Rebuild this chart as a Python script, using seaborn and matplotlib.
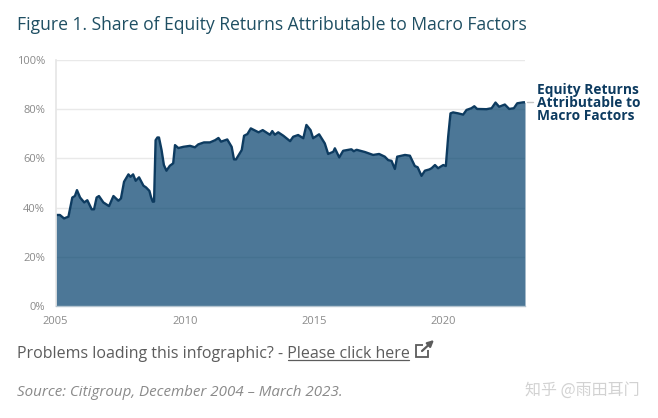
# ==========================
# IMPORT LIBRARIES
# ==========================
import matplotlib
matplotlib.use("Agg")
import matplotlib.pyplot as plt
import pandas as pd
import seaborn as sns
from matplotlib.lines import Line2D
from matplotlib.patches import FancyArrowPatch, Rectangle

# ==========================
# DATA
# ==========================
years = [
    2005.0, 2005.17, 2005.33, 2005.5, 2005.65, 2005.75, 2005.83, 2005.95, 2006.11, 2006.23,
    2006.4, 2006.49, 2006.59, 2006.68, 2006.85, 2007.07, 2007.24, 2007.43, 2007.53, 2007.65,
    2007.82, 2007.9, 2008.0, 2008.1, 2008.23, 2008.4, 2008.5, 2008.63, 2008.69, 2008.76,
    2008.81, 2008.87, 2008.94, 2009.0, 2009.1, 2009.19, 2009.29, 2009.42, 2009.55, 2009.62,
    2009.75, 2009.94, 2010.2, 2010.39, 2010.52, 2010.74, 2010.97, 2011.17, 2011.3, 2011.4,
    2011.64, 2011.81, 2011.9, 2011.98, 2012.2, 2012.29, 2012.42, 2012.55, 2012.85, 2013.01,
    2013.29, 2013.38, 2013.48, 2013.61, 2013.81, 2014.07, 2014.19, 2014.38, 2014.58, 2014.7,
    2014.86, 2014.96, 2015.19, 2015.41, 2015.54, 2015.74, 2015.8, 2015.97, 2016.12, 2016.44,
    2016.53, 2016.64, 2016.96, 2017.28, 2017.51, 2017.73, 2017.86, 2017.99, 2018.12, 2018.21,
    2018.51, 2018.7, 2018.89, 2019.0, 2019.15, 2019.28, 2019.45, 2019.54, 2019.67, 2019.79,
    2019.99, 2020.09, 2020.18, 2020.27, 2020.37, 2020.57, 2020.76, 2020.89, 2021.08, 2021.19,
    2021.3, 2021.66, 2021.86, 2022.01, 2022.15, 2022.37, 2022.54, 2022.72, 2022.85, 2023.08,
    2023.15,
]
share = [
    37.0, 37.0, 35.6, 36.3, 44.1, 44.7, 47.1, 44.1, 42.1, 43.0,
    39.3, 39.3, 44.1, 44.7, 42.1, 40.6, 44.7, 42.8, 43.7, 50.5,
    53.5, 52.5, 53.5, 50.9, 52.3, 48.9, 48.2, 46.8, 44.4, 42.4,
    42.4, 67.4, 68.5, 68.5, 63.4, 57.3, 55.0, 57.0, 58.0, 65.4,
    64.2, 64.7, 65.1, 64.5, 65.7, 66.5, 66.5, 67.4, 68.3, 66.8,
    67.7, 64.7, 59.6, 59.6, 63.4, 69.2, 69.9, 72.2, 70.6, 71.5,
    69.6, 71.1, 69.6, 70.6, 69.2, 67.0, 68.8, 69.5, 68.2, 73.6,
    71.5, 68.2, 69.8, 66.1, 61.8, 62.7, 64.1, 60.4, 63.1, 63.7,
    62.9, 63.5, 62.6, 61.4, 61.8, 60.7, 59.3, 59.0, 55.7, 60.7,
    61.4, 61.1, 56.9, 56.4, 52.9, 55.0, 55.5, 56.0, 57.3, 56.0,
    57.3, 56.9, 68.8, 78.3, 78.7, 78.3, 77.8, 79.7, 80.4, 81.2,
    80.1, 80.0, 80.4, 82.7, 81.0, 81.9, 80.1, 80.4, 82.4, 82.8,
    82.8,
]
x_ticks = [2005, 2010, 2015, 2020]
y_ticks = [0, 20, 40, 60, 80, 100]

df = pd.DataFrame({"year": years, "share": share})

# ==========================
# FIGURE
# ==========================
W, H = 658, 418


def fx(px):
    return px / W


def fy(py):
    return 1 - py / H


sns.set_theme(style="white")
plt.rcParams["font.family"] = ["Open Sans", "DejaVu Sans"]

fig = plt.figure(figsize=(W / 100, H / 100), dpi=100, facecolor="white")
ax = fig.add_axes([fx(55.5), fy(306), (525 - 55.5) / W, (306 - 60) / H])

ax.set_axisbelow(True)
ax.grid(axis="y", color="#e9e9e9", linewidth=1)
ax.fill_between(df["year"], df["share"], 0, color="#003e6b", alpha=0.7, linewidth=0)
sns.lineplot(data=df, x="year", y="share", ax=ax, color="#0d3b60", linewidth=1.7,
             solid_joinstyle="round", errorbar=None)

ax.set_xlim(2005, 2023.15)
ax.set_ylim(0, 100)
ax.set_xticks(x_ticks)
ax.set_yticks(y_ticks)
ax.set_yticklabels([f"{v}%" for v in y_ticks])
ax.set_xlabel("")
ax.set_ylabel("")
ax.tick_params(axis="both", labelsize=8, colors="#8a8a8a", length=0)
ax.tick_params(axis="y", pad=7.5)
ax.tick_params(axis="x", pad=7)

sns.despine(ax=ax, top=True, right=True)
ax.spines["left"].set_color("#e6e6e6")
ax.spines["bottom"].set_color("#b4c4d0")
ax.spines["bottom"].set_linewidth(1)

# ==========================
# TEXT
# ==========================
fig.text(fx(17), fy(25.5), "Figure 1. Share of Equity Returns Attributable to Macro Factors",
         fontsize=12.65, color="#1f4f63", va="center", ha="left")

fig.add_artist(Line2D([fx(527), fx(533)], [fy(102), fy(102)], color="#c4c4c4", linewidth=1))
fig.text(fx(537), fy(103), "Equity Returns\nAttributable to\nMacro Factors",
         fontsize=9.9, fontweight="bold", color="#0d3b60", va="center", ha="left",
         linespacing=0.87)

fig.text(fx(17), fy(353.5), "Problems loading this infographic? - Please click here",
         fontsize=11.5, color="#5c5c5c", va="center", ha="left")
fig.add_artist(Line2D([fx(288), fx(409)], [fy(360), fy(360)], color="#5c5c5c", linewidth=0.9))

# external link icon
fig.add_artist(Rectangle((fx(416), fy(357)), 12 / W, 12 / H, transform=fig.transFigure,
                         fill=False, edgecolor="#5c5c5c", linewidth=1.3, zorder=3))
fig.add_artist(Rectangle((fx(423), fy(350)), 7 / W, 7 / H, transform=fig.transFigure,
                         facecolor="white", edgecolor="none", zorder=4))
fig.add_artist(FancyArrowPatch((fx(422), fy(351)), (fx(434), fy(340)),
                               transform=fig.transFigure, arrowstyle="-|>",
                               color="#5c5c5c", lw=1.6, mutation_scale=9,
                               shrinkA=0, shrinkB=0, zorder=5))

fig.text(fx(17), fy(393), "Source: Citigroup, December 2004 \u2013 March 2023.",
         fontsize=10.9, style="italic", color="#8a8a8a", va="center", ha="left")

fig.text(fx(640), fy(390), "\u77e5\u4e4e @\u96e8\u7530\u8033\u95e8",
         fontsize=11.5, color="#d2d2d2", va="center", ha="right",
         family=["Noto Sans CJK SC", "DejaVu Sans"])

fig.savefig("out.png", dpi=100)
